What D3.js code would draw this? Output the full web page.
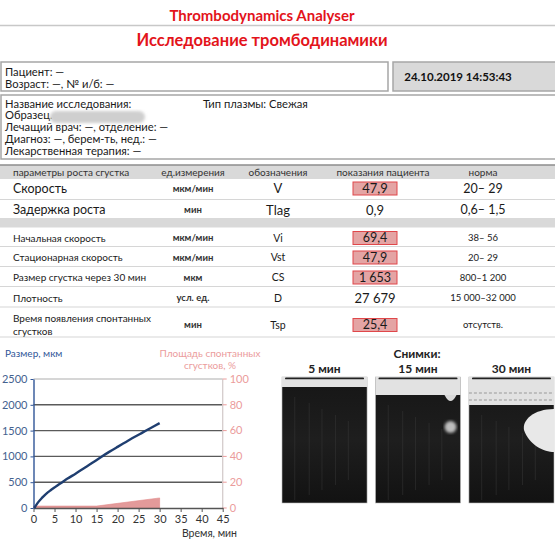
<!DOCTYPE html>
<html>
  <head>
    <meta charset="utf-8"/>
    <title>Thrombodynamics</title>
    <style>
      body { margin: 0; background: #fff; }
      svg { display: block; font-family: Lato, "Noto Sans", sans-serif; }
      .red { fill: #e3141b; font-weight: bold; }
      .info { font-size: 11.2px; fill: #1a1a1a; }
      .th { font-size: 10px; fill: #333; }
    </style>
    <script src="https://d3js.org/d3.v7.min.js"></script>
  </head>
  <body>
    <svg id="chart" width="555" height="547"></svg>
    <script>
      // table
      var params = ["Скорость", "Задержка роста", "Начальная скорость", "Стационарная скорость",
                    "Размер сгустка через 30 мин", "Плотность", "Время появления спонтанных|сгустков"];
      var units = ["мкм/мин", "мин", "мкм/мин", "мкм/мин", "мкм", "усл. ед.", "мин"];
      var codes = ["V", "Tlag", "Vi", "Vst", "CS", "D", "Tsp"];
      var values = ["47,9", "0,9", "69,4", "47,9", "1 653", "27 679", "25,4"];
      var norms = ["20– 29", "0,6– 1,5", "38– 56", "20– 29", "800–1 200", "15 000–32 000", "отсутств."];
      var outOfRange = [true, false, true, true, true, false, true];
      var big = [true, true, false, false, false, false, false];
      var headers = ["параметры роста сгустка", "ед.измерения", "обозначения", "показания пациента", "норма"];

      // chart: clot size (мкм) vs time (мин)
      var sizeTime = [0.2, 1, 2, 3, 4, 5, 6, 7, 8, 10, 12, 14, 16, 18, 20, 22, 24, 26, 28, 30];
      var sizeVal  = [0, 100, 195, 275, 340, 398, 455, 510, 565, 665, 770, 875, 985, 1088, 1185, 1280, 1375, 1465, 1555, 1645];
      // spontaneous clot area, %
      var spTime = [0, 15, 30, 30];
      var spVal  = [1.5, 1.5, 7.8, 0];
      var leftTicks = [0, 500, 1000, 1500, 2000, 2500];
      var rightTicks = [0, 20, 40, 60, 80, 100];
      var xTicks = [0, 5, 10, 15, 20, 25, 30, 35, 40, 45];
      var shots = ["5 мин", "15 мин", "30 мин"];

      var svg = d3.select("#chart");
      svg.append("rect").attr("width", 555).attr("height", 547).attr("fill", "#fff");

      // titles
      svg.append("text").attr("class", "red").attr("x", 262).attr("y", 21)
        .attr("text-anchor", "middle").attr("font-size", 15).text("Thrombodynamics Analyser");
      svg.append("line").attr("x1", 0).attr("x2", 555).attr("y1", 25.5).attr("y2", 25.5)
        .attr("stroke", "#c8c8c8").attr("stroke-width", 1.5);
      svg.append("text").attr("class", "red").attr("x", 262).attr("y", 46)
        .attr("text-anchor", "middle").attr("font-size", 16.5).text("Исследование тромбодинамики");

      // patient box
      svg.append("rect").attr("x", 1).attr("y", 62).attr("width", 387).attr("height", 29)
        .attr("fill", "#fff").attr("stroke", "#a6a6a6").attr("stroke-width", 1.5);
      svg.append("text").attr("class", "info").attr("x", 5).attr("y", 75.5).text("Пациент: —");
      svg.append("text").attr("class", "info").attr("x", 5).attr("y", 88).text("Возраст: —, № и/б: —");

      svg.append("rect").attr("x", 393).attr("y", 62).attr("width", 170).attr("height", 29)
        .attr("fill", "#d9d9d9").attr("stroke", "#a6a6a6").attr("stroke-width", 1.5);
      svg.append("text").attr("x", 458).attr("y", 80.5).attr("text-anchor", "middle")
        .attr("font-size", 11.5).attr("font-weight", "bold").attr("fill", "#111").text("24.10.2019 14:53:43");

      // study box
      svg.append("rect").attr("x", 1).attr("y", 95).attr("width", 560).attr("height", 64)
        .attr("fill", "#fff").attr("stroke", "#a6a6a6").attr("stroke-width", 1.5);
      var infoLines = ["Название исследования:", "Образец.", "Лечащий врач: —, отделение: —",
                       "Диагноз: —, берем-ть, нед.: —", "Лекарственная терапия: —"];
      svg.selectAll(".infoLine").data(infoLines).enter().append("text")
        .attr("class", "info").attr("x", 5).attr("y", function(d, i) { return 107.5 + i * 11.8; })
        .text(function(d) { return d; });
      svg.append("text").attr("class", "info").attr("x", 203).attr("y", 107.5).text("Тип плазмы: Свежая");
      var defs = svg.append("defs");
      defs.append("filter").attr("id", "blur").append("feGaussianBlur").attr("stdDeviation", 1.5);
      svg.append("rect").attr("x", 50).attr("y", 111).attr("width", 95).attr("height", 12)
        .attr("rx", 6).attr("fill", "#cfcfcf").attr("filter", "url(#blur)");

      // table
      var colX = [13, 193, 278, 375, 483];
      svg.append("rect").attr("x", 0).attr("y", 165).attr("width", 555).attr("height", 14)
        .attr("fill", "#d9d9d9");
      svg.append("line").attr("x1", 0).attr("x2", 555).attr("y1", 165).attr("y2", 165)
        .attr("stroke", "#8c8c8c").attr("stroke-width", 1.5);
      svg.selectAll(".th").data(headers).enter().append("text")
        .attr("class", "th").attr("y", 175.5)
        .attr("x", function(d, i) { return i === 0 ? colX[0] : colX[i] + (i === 3 ? 8 : 0); })
        .attr("text-anchor", function(d, i) { return i === 0 ? "start" : "middle"; })
        .text(function(d) { return d; });

      var rowY = [188.5, 210, 238, 257.5, 277.5, 298, 325];
      var sepY = [199.5, 246.5, 266.5, 286.5, 307, 337];
      svg.append("rect").attr("x", 0).attr("y", 218).attr("width", 555).attr("height", 9.5)
        .attr("fill", "#d9d9d9");
      svg.selectAll(".sep").data(sepY).enter().append("line")
        .attr("x1", 0).attr("x2", 555).attr("y1", function(d) { return d; }).attr("y2", function(d) { return d; })
        .attr("stroke", "#d6d6d6").attr("stroke-width", 1.2);

      var rows = svg.selectAll(".row").data(params).enter().append("g")
        .attr("transform", function(d, i) { return "translate(0," + rowY[i] + ")"; });
      rows.each(function(d, i) {
        var g = d3.select(this);
        var parts = d.split("|");
        parts.forEach(function(p, k) {
          g.append("text").attr("x", colX[0])
            .attr("y", (parts.length > 1 ? (k === 0 ? -6.5 : 6.5) : 0))
            .attr("dy", "0.35em").attr("font-size", big[i] ? 12.5 : 10).attr("fill", "#1a1a1a").text(p);
        });
        g.append("text").attr("x", colX[1]).attr("dy", "0.35em").attr("text-anchor", "middle")
          .attr("font-size", 9.5).attr("font-weight", "bold").attr("fill", "#333").text(units[i]);
        g.append("text").attr("x", colX[2]).attr("dy", "0.35em").attr("text-anchor", "middle")
          .attr("font-size", big[i] ? 13 : 10.5).attr("fill", "#1a1a1a").text(codes[i]);
        if (outOfRange[i]) {
          g.append("rect").attr("x", 353).attr("y", -6.5).attr("width", 44).attr("height", 13)
            .attr("fill", "#e4a4a4").attr("stroke", "#e0474a").attr("stroke-width", 1);
        }
        g.append("text").attr("x", colX[3]).attr("dy", "0.35em").attr("text-anchor", "middle")
          .attr("font-size", (big[i] || i === 5) ? 13 : 12.5).attr("fill", "#1a1a1a").text(values[i]);
        g.append("text").attr("x", colX[4]).attr("dy", "0.35em").attr("text-anchor", "middle")
          .attr("font-size", big[i] ? 12.5 : 9.5).attr("fill", "#1a1a1a").text(norms[i]);
      });

      // chart
      var x = d3.scaleLinear().domain([0, 45]).range([33.5, 222.7]);
      var yL = d3.scaleLinear().domain([0, 2500]).range([508, 379]);
      var yR = d3.scaleLinear().domain([0, 100]).range([508, 379]);
      var plot = svg.append("g");

      svg.append("text").attr("x", 5).attr("y", 357).attr("font-size", 10).attr("fill", "#2f5597")
        .text("Размер, мкм");
      svg.append("text").attr("x", 210).attr("y", 357).attr("text-anchor", "middle").attr("font-size", 10)
        .attr("fill", "#eb9c9c").text("Площадь спонтанных");
      svg.append("text").attr("x", 210).attr("y", 369).attr("text-anchor", "middle").attr("font-size", 10)
        .attr("fill", "#eb9c9c").text("сгустков, %");

      plot.selectAll(".grid").data(leftTicks.slice(1)).enter().append("line")
        .attr("x1", x(0)).attr("x2", x(45))
        .attr("y1", function(d) { return yL(d); }).attr("y2", function(d) { return yL(d); })
        .attr("stroke", function(d) { return d === 2500 ? "#c9c9c9" : "#5a5a5a"; })
        .attr("stroke-width", 1.4);

      // right axis
      plot.append("line").attr("x1", x(45)).attr("x2", x(45)).attr("y1", yR(0)).attr("y2", yR(100))
        .attr("stroke", "#d4cccc").attr("stroke-width", 1.3);
      var rAx = plot.selectAll(".rt").data(rightTicks).enter().append("g")
        .attr("transform", function(d) { return "translate(" + x(45) + "," + yR(d) + ")"; });
      rAx.append("line").attr("x1", 0).attr("x2", 4).attr("stroke", "#eb9c9c");
      rAx.append("text").attr("x", 7).attr("dy", "0.35em").attr("font-size", 11).attr("fill", "#eb9c9c")
        .text(function(d) { return d; });

      // spontaneous clot area
      var area = d3.area().x(function(d) { return x(d[0]); }).y0(yR(0)).y1(function(d) { return yR(d[1]); });
      plot.append("path").datum(d3.zip(spTime, spVal)).attr("d", area)
        .attr("fill", "#e39a9a").attr("stroke", "#e08888").attr("stroke-width", 0.6);

      // x axis
      var xAxis = plot.append("g").attr("transform", "translate(0," + yL(0) + ")")
        .call(d3.axisBottom(x).tickValues(xTicks).tickSize(4).tickSizeOuter(0));
      xAxis.select(".domain").attr("stroke", "#555").attr("stroke-width", 1.4);
      xAxis.selectAll(".tick line").attr("stroke", "#555");
      xAxis.selectAll("text").attr("font-size", 11).attr("fill", "#333").attr("font-family", "Lato");
      svg.append("text").attr("x", 237).attr("y", 537).attr("text-anchor", "end").attr("font-size", 10.5)
        .attr("fill", "#333").text("Время, мин");

      // left axis
      var yAxis = plot.append("g").attr("transform", "translate(" + x(0) + ",0)")
        .call(d3.axisLeft(yL).tickValues(leftTicks).tickFormat(d3.format("d")).tickSize(3).tickSizeOuter(0));
      yAxis.select(".domain").attr("stroke", "#2f5597").attr("stroke-width", 1.4);
      yAxis.selectAll(".tick line").attr("stroke", "#2f5597");
      yAxis.selectAll("text").attr("font-size", 11).attr("fill", "#44628f").attr("font-family", "Lato");

      // clot size curve
      var line = d3.line().x(function(d) { return x(d[0]); }).y(function(d) { return yL(d[1]); })
        .curve(d3.curveMonotoneX);
      plot.append("path").datum(d3.zip(sizeTime, sizeVal)).attr("d", line)
        .attr("fill", "none").attr("stroke", "#1f3e70").attr("stroke-width", 2.4);

      // snapshots
      svg.append("text").attr("x", 417).attr("y", 358).attr("text-anchor", "middle")
        .attr("font-size", 12).attr("font-weight", "bold").attr("fill", "#222").text("Снимки:");
      var shotX = d3.scaleBand().domain(shots).range([282, 554]).paddingInner(0.09);
      var band = [387, 395, 405];
      var sg = svg.selectAll(".shot").data(shots).enter().append("g")
        .attr("transform", function(d) { return "translate(" + shotX(d) + ",0)"; });
      sg.append("text").attr("x", shotX.bandwidth() / 2).attr("y", 373).attr("text-anchor", "middle")
        .attr("font-size", 12).attr("font-weight", "bold").attr("fill", "#222").text(function(d) { return d; });
      var grad = defs.append("linearGradient").attr("id", "dark").attr("x1", 0).attr("x2", 0).attr("y1", 0).attr("y2", 1);
      grad.append("stop").attr("offset", 0).attr("stop-color", "#161616");
      grad.append("stop").attr("offset", 0.5).attr("stop-color", "#1e1e1e");
      grad.append("stop").attr("offset", 1).attr("stop-color", "#121212");
      sg.append("rect").attr("y", 377).attr("width", shotX.bandwidth()).attr("height", 126)
        .attr("fill", "url(#dark)").attr("stroke", "#bbb").attr("stroke-width", 0.6);
      sg.append("rect").attr("y", 377).attr("width", shotX.bandwidth())
        .attr("height", function(d, i) { return band[i] - 377; }).attr("fill", "#e2e2e2");
      sg.append("rect").attr("x", 3).attr("y", 377.5).attr("width", shotX.bandwidth() - 6).attr("height", 1.8)
        .attr("rx", 1).attr("fill", "#222");
      sg.each(function(d, i) {
        var g = d3.select(this), w = shotX.bandwidth();
        // faint vertical streaks
        [0.15, 0.32, 0.47, 0.63, 0.78].forEach(function(f, k) {
          g.append("line").attr("x1", w * f).attr("x2", w * f)
            .attr("y1", band[i] + 10 + k * 6).attr("y2", 500 - k * 5)
            .attr("stroke", "#3a3a3a").attr("stroke-width", 0.8).attr("opacity", 0.6);
        });
        if (i === 1) {
          g.append("path").attr("d", "M" + (w - 16) + "," + band[i] + " Q" + (w - 10) + "," + (band[i] + 12) + " " + (w - 4) + "," + band[i] + "Z")
            .attr("fill", "#d8d8d8");
          g.append("ellipse").attr("cx", w - 10).attr("cy", 427).attr("rx", 6).attr("ry", 6).attr("fill", "#bdbdbd")
            .attr("filter", "url(#blur)");
        }
        if (i === 2) {
          g.append("path").attr("d", "M" + w + ",409 C" + (w - 20) + ",409 " + (w - 32) + ",420 " + (w - 30) + ",430 C" + (w - 25) + ",445 " + (w - 10) + ",452 " + w + ",452 Z")
            .attr("fill", "#e8e8e8");
          [393, 400].forEach(function(yy) {
            g.append("line").attr("x1", 0).attr("x2", w).attr("y1", yy).attr("y2", yy)
              .attr("stroke", "#888").attr("stroke-width", 0.8).attr("stroke-dasharray", "3,2");
          });
        }
      });
    </script>
  </body>
</html>
